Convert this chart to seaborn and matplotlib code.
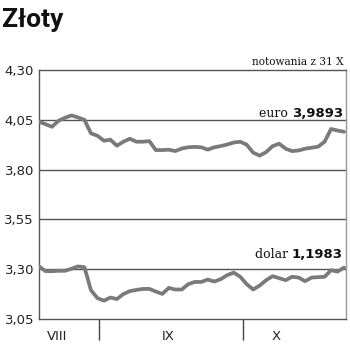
import matplotlib
matplotlib.use("Agg")
import matplotlib.pyplot as plt
import seaborn as sns
import pandas as pd

# --- data ---
euro = [4.040, 4.028, 4.015, 4.045, 4.060, 4.072, 4.062, 4.050, 3.982, 3.970,
        3.945, 3.950, 3.920, 3.940, 3.955, 3.940, 3.940, 3.943, 3.898, 3.898,
        3.900, 3.893, 3.906, 3.912, 3.914, 3.912, 3.900, 3.912, 3.918, 3.926,
        3.936, 3.940, 3.925, 3.885, 3.870, 3.888, 3.918, 3.930, 3.905, 3.893,
        3.896, 3.905, 3.910, 3.915, 3.940, 4.004, 3.996, 3.990]
dolar = [3.314, 3.290, 3.290, 3.292, 3.292, 3.302, 3.314, 3.310, 3.195, 3.155,
         3.142, 3.158, 3.150, 3.175, 3.190, 3.196, 3.201, 3.201, 3.188, 3.176,
         3.206, 3.198, 3.198, 3.225, 3.236, 3.236, 3.248, 3.238, 3.250, 3.270,
         3.283, 3.262, 3.225, 3.198, 3.218, 3.245, 3.265, 3.255, 3.245, 3.262,
         3.258, 3.240, 3.258, 3.260, 3.262, 3.295, 3.288, 3.308]
sessions = list(range(len(euro)))
y_ticks = [3.05, 3.30, 3.55, 3.80, 4.05, 4.30]
y_labels = ["3,05", "3,30", "3,55", "3,80", "4,05", "4,30"]
months = ["VIII", "IX", "X"]
month_label_pos = [2.8, 19.9, 36.5]
month_breaks = [9.25, 31.4]
title = "Złoty"
note = "notowania z 31 X"
euro_label, euro_value = "euro", "3,9893"
dolar_label, dolar_value = "dolar", "1,1983"

df = pd.DataFrame({"sesja": sessions * 2,
                   "kurs": euro + dolar,
                   "waluta": ["euro"] * len(euro) + ["dolar"] * len(dolar)})

sns.set_theme(style="white")
plt.rcParams["font.family"] = ["DejaVu Sans"]

fig = plt.figure(figsize=(3.5, 3.51), dpi=100)
ax = fig.add_axes([39 / 350, 1 - 319 / 351, (346 - 39) / 350, (319 - 70) / 351])

grid_c = "#555555"
for yv in y_ticks[1:-1]:
    ax.axhline(yv, color=grid_c, lw=1.0, zorder=1)

sns.lineplot(data=df, x="sesja", y="kurs", hue="waluta",
             palette={"euro": "#7a7a7a", "dolar": "#7a7a7a"},
             lw=2.7, legend=False, ax=ax, zorder=3)

ax.set_xlim(0, 47.3)
ax.set_ylim(3.05, 4.30)
ax.set_xlabel("")
ax.set_ylabel("")

ax.set_yticks(y_ticks)
ax.set_yticklabels(y_labels)
ax.tick_params(axis="y", length=0, pad=3.6, labelsize=9.5, labelcolor="#222222")

ax.set_xticks(month_breaks)
ax.set_xticklabels([""] * len(month_breaks))
ax.set_xticks(month_label_pos, minor=True)
ax.set_xticklabels(months, minor=True)
ax.tick_params(axis="x", which="major", bottom=True, length=15, width=1.0,
               color="#444444", direction="out")
ax.tick_params(axis="x", which="minor", bottom=True, length=0, pad=8,
               labelsize=9.5, labelcolor="#222222")

for side, sp in ax.spines.items():
    sp.set_visible(True)
    sp.set_linewidth(1.0)
    sp.set_color(grid_c)
ax.spines["right"].set_color("#999999")

# title
fig.text(2 / 350, 1 - 27 / 351, title, family=["Roboto", "DejaVu Sans"],
         fontweight="bold", fontsize=19, va="baseline", ha="left", color="#111111")
# note
fig.text(344 / 350, 1 - 65 / 351, note, family=["DejaVu Serif"], fontsize=7.6,
         va="baseline", ha="right", color="#111111")

# end labels
def end_label(name, value, y_px):
    t = fig.text(343 / 350, 1 - y_px / 351, value, family=["DejaVu Sans"],
                 fontweight="bold", fontsize=9.5, va="baseline", ha="right",
                 color="#111111")
    ax.annotate(name + " ", xy=(0, 0), xycoords=t, ha="right", va="bottom",
                family=["DejaVu Serif"], fontsize=9, color="#111111",
                annotation_clip=False)

end_label(euro_label, euro_value, 117)
end_label(dolar_label, dolar_value, 258)

fig.savefig("out.png", dpi=100, facecolor="white")
